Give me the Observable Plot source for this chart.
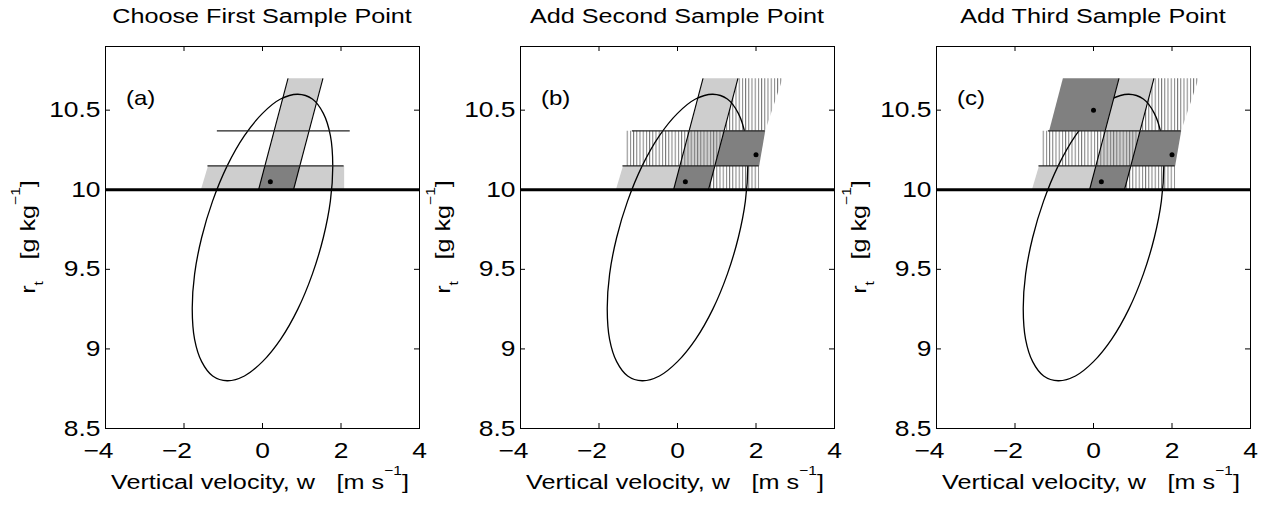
<!DOCTYPE html>
<html>
<head>
<meta charset="utf-8">
<script src="https://cdn.jsdelivr.net/npm/d3@7"></script>
<script src="https://cdn.jsdelivr.net/npm/@observablehq/plot@0.6"></script>
<style>
  body { margin: 0; background: #fff; }
  #wrap { position: relative; width: 1261px; height: 506px; overflow: hidden; background: #fff; }
</style>
</head>
<body>
<svg width="0" height="0" style="position:absolute">
  <defs>
    <pattern id="vhatch" patternUnits="userSpaceOnUse" x="0" y="0" width="3.2" height="8">
      <rect x="0" y="0" width="1" height="8" fill="#7a7a7a"></rect>
    </pattern>
  </defs>
</svg>
<div id="wrap"></div>
<script>
// ---------- data ----------
const panelLetters = ["(a)", "(b)", "(c)"];
const panelTitles = ["Choose First Sample Point", "Add Second Sample Point", "Add Third Sample Point"];
const xTicks = [-4, -2, 0, 2, 4];
const yTicks = [8.5, 9, 9.5, 10, 10.5];
const xDomain = [-4, 4];
const yDomain = [8.5, 10.9];

// ellipse outline (w, r_t)
const ellipseW = [1.79, 1.73, 1.55, 1.27, 0.90, 0.46, 0.00, -0.46, -0.90, -1.27, -1.55, -1.73,
                  -1.79, -1.73, -1.55, -1.27, -0.90, -0.46, 0.00, 0.46, 0.90, 1.27, 1.55, 1.73];
const ellipseR = [10.15, 10.34, 10.48, 10.57, 10.60, 10.57, 10.48, 10.34, 10.15, 9.93, 9.70, 9.47,
                  9.25, 9.06, 8.92, 8.83, 8.80, 8.83, 8.92, 9.06, 9.25, 9.47, 9.70, 9.93];

// sample points
const sampleW = [0.2, 2.0, 0.0];
const sampleR = [10.05, 10.22, 10.5];

// thick reference level
const baseR = [10];

// horizontal bin boundaries
const hLineR = [10.15, 10.37];
const hLineW1 = [-1.39, -1.15];
const hLineW2 = [2.08, 2.235];

// slanted bin edges: w at r_t = 10 and at r_t = 10.7
const slantR = [10, 10.7];
const slantW0 = [-0.10, 0.79];
const slantW1 = [0.65, 1.54];

// shaded regions, vertices as [w, r_t]
const lightRtBinFull = [[-1.57, 10], [2.08, 10], [2.08, 10.15], [-1.39, 10.15]];
const lightRtBinLeft = [[-1.57, 10], [-0.10, 10], [0.06, 10.15], [-1.39, 10.15]];
const lightSlantBin = [[-0.10, 10], [0.79, 10], [1.54, 10.70], [0.65, 10.70]];
const darkBin1 = [[-0.10, 10], [0.79, 10], [0.95, 10.15], [0.06, 10.15]];
const darkBin2 = [[0.95, 10.15], [2.08, 10.15], [2.235, 10.37], [1.19, 10.37]];
const darkBin3 = [[-1.13, 10.37], [0.30, 10.37], [0.65, 10.70], [-0.78, 10.70]];
const hatchMid = [[-1.33, 10.15], [0.95, 10.15], [1.19, 10.37], [-1.33, 10.37]];
const hatchLow = [[0.79, 10], [2.08, 10], [2.08, 10.15], [0.95, 10.15]];
const hatchTop = [[1.19, 10.37], [2.235, 10.37], [2.68, 10.70], [1.54, 10.70]];

const panelLight = [[lightRtBinFull, lightSlantBin], [lightRtBinLeft, lightSlantBin], [lightRtBinLeft, lightSlantBin]];
const panelHatch = [[], [hatchMid, hatchLow, hatchTop], [hatchMid, hatchLow, hatchTop]];
const panelDark = [[darkBin1], [darkBin1, darkBin2], [darkBin1, darkBin2, darkBin3]];
const panelSampleCount = [1, 2, 3];

// ---------- layout ----------
const panelLeft = [0, 415, 831];
const W = 421, H = 506, ML = 105, MR = 2, MT = 46, MB = 78;
const innerW = W - ML - MR, innerH = H - MT - MB;
const SX = 1.2; // horizontal stretch of the lettering
const FONT = "'Liberation Sans', Arial, Helvetica, sans-serif";

const fmt = d => (d < 0 ? "\u2212" + Math.abs(d) : String(d));
const polyRows = polys => polys.flatMap((p, i) => p.map(([w, r]) => ({w, r, id: i})));
const ellipseRows = ellipseW.map((w, i) => ({w, r: ellipseR[i]}));
const slantRows = slantW0.map((w, i) => ({x1: w, y1: slantR[0], x2: slantW1[i], y2: slantR[1]}));
const hRows = hLineR.map((r, i) => ({r, w1: hLineW1[i], w2: hLineW2[i]}));
const sampleRows = sampleW.map((w, i) => ({w, r: sampleR[i]}));

const wrap = document.getElementById("wrap");

panelTitles.forEach((title, p) => {
  const svg = Plot.plot({
    width: W, height: H,
    marginLeft: ML, marginRight: MR, marginTop: MT, marginBottom: MB,
    style: {fontFamily: FONT, fontSize: "22px", background: "transparent", overflow: "visible", color: "black"},
    x: {domain: xDomain},
    y: {domain: yDomain},
    marks: [
      Plot.line(polyRows(panelLight[p]), {x: "w", y: "r", z: "id", fill: "#cecece", stroke: "none", curve: "linear-closed"}),
      Plot.line(polyRows(panelHatch[p]), {x: "w", y: "r", z: "id", fill: "url(#vhatch)", stroke: "none", curve: "linear-closed"}),
      Plot.line(ellipseRows, {x: "w", y: "r", stroke: "black", strokeWidth: 1.3, curve: "catmull-rom-closed"}),
      Plot.line(polyRows(panelDark[p]), {x: "w", y: "r", z: "id", fill: "#808080", stroke: "none", curve: "linear-closed"}),
      Plot.link(slantRows, {x1: "x1", y1: "y1", x2: "x2", y2: "y2", stroke: "black", strokeWidth: 1.1}),
      Plot.ruleY(hRows, {y: "r", x1: "w1", x2: "w2", stroke: "#222", strokeWidth: 1.3}),
      Plot.ruleY(baseR, {stroke: "black", strokeWidth: 3}),
      Plot.dot(sampleRows.slice(0, panelSampleCount[p]), {x: "w", y: "r", r: 2.5, fill: "black", stroke: "none"}),
      Plot.tickX(xTicks, {x: d => d, insetTop: innerH - 5, stroke: "black", strokeWidth: 1}),
      Plot.tickX(xTicks, {x: d => d, insetBottom: innerH - 5, stroke: "black", strokeWidth: 1}),
      Plot.tickY(yTicks, {y: d => d, insetRight: innerW - 5, stroke: "black", strokeWidth: 1}),
      Plot.tickY(yTicks, {y: d => d, insetLeft: innerW - 5, stroke: "black", strokeWidth: 1}),
      Plot.axisX({ticks: xTicks, tickSize: 0, tickPadding: 14, tickFormat: fmt, label: null}),
      Plot.axisY({ticks: yTicks, tickSize: 0, tickPadding: 5, tickFormat: fmt, label: null}),
      Plot.frame({stroke: "black", strokeWidth: 1})
    ]
  });
  svg.style.position = "absolute";
  svg.style.left = panelLeft[p] + "px";
  svg.style.top = "0px";
  wrap.appendChild(svg);

  // stretch tick labels horizontally
  svg.querySelectorAll('g[aria-label$="tick label"] text').forEach(t => {
    const L = t.getComputedTextLength();
    t.setAttribute("textLength", (L * SX).toFixed(2));
    t.setAttribute("lengthAdjust", "spacingAndGlyphs");
    if (t.textContent.startsWith("\u2212")) t.setAttribute("dx", -7);
  });

  const s = d3.select(svg);
  const cx = ML + innerW / 2;
  // title
  s.append("text")
    .attr("transform", `translate(${cx},23) scale(${SX},1)`)
    .attr("text-anchor", "middle").attr("font-size", 21).attr("fill", "black")
    .text(title);
  // panel letter
  s.append("text")
    .attr("transform", `translate(${ML + 21},105) scale(${SX},1)`)
    .attr("text-anchor", "start").attr("font-size", 20).attr("fill", "black")
    .text(panelLetters[p]);
  // x label
  const xl = s.append("text")
    .attr("transform", `translate(${cx - 2},489) scale(${SX},1)`)
    .attr("text-anchor", "middle").attr("font-size", 21).attr("fill", "black");
  xl.append("tspan").text("Vertical velocity, w");
  xl.append("tspan").attr("dx", 18).text("[m s");
  xl.append("tspan").attr("font-size", 13).attr("dy", -14).text("\u22121");
  xl.append("tspan").attr("dy", 14).text("]");
  // y label
  const yl = s.append("text")
    .attr("transform", `translate(35,${MT + innerH / 2}) rotate(-90) scale(${SX},1)`)
    .attr("text-anchor", "middle").attr("font-size", 21).attr("fill", "black");
  yl.append("tspan").text("r");
  yl.append("tspan").attr("font-size", 13).attr("dy", 8).text("t");
  yl.append("tspan").attr("dx", 18).attr("dy", -8).text("[g kg");
  yl.append("tspan").attr("font-size", 13).attr("dy", -15).text("\u22121");
  yl.append("tspan").attr("dy", 15).text("]");
});
</script>
</body>
</html>
